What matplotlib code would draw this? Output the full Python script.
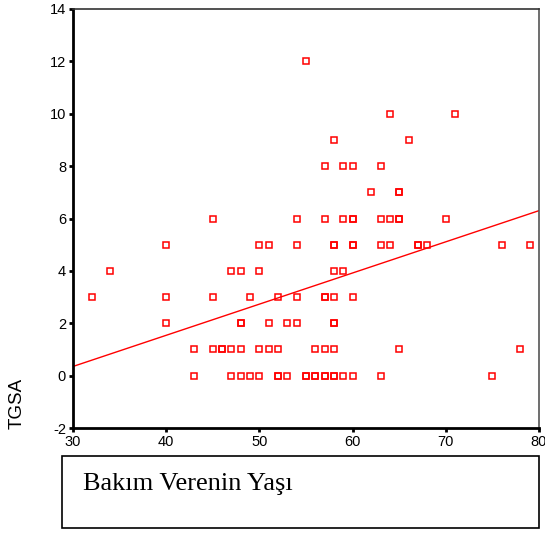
import numpy as np
import matplotlib
matplotlib.use("Agg")
import matplotlib.pyplot as plt
from matplotlib.patches import Rectangle
from matplotlib.ticker import FuncFormatter

# ages (Bakım Verenin Yaşı) and TGSA scores
age = [55,
       64, 71,
       58, 66,
       57, 59, 60, 63,
       62, 65, 65,
       45, 54, 57, 59, 60, 60, 63, 64, 65, 65, 70,
       40, 50, 51, 54, 58, 58, 60, 60, 63, 64, 67, 67, 68, 76, 79,
       34, 47, 48, 50, 58, 59,
       32, 40, 45, 49, 52, 54, 57, 57, 58, 60,
       40, 48, 48, 51, 53, 54, 58, 58,
       43, 45, 46, 46, 47, 48, 50, 51, 52, 56, 57, 58, 65, 78,
       43, 47, 48, 49, 50, 52, 52, 53, 55, 55, 56, 56, 57, 57, 58, 58, 59, 60, 63, 75]
tgsa = [12,
        10, 10,
        9, 9,
        8, 8, 8, 8,
        7, 7, 7,
        6, 6, 6, 6, 6, 6, 6, 6, 6, 6, 6,
        5, 5, 5, 5, 5, 5, 5, 5, 5, 5, 5, 5, 5, 5, 5,
        4, 4, 4, 4, 4, 4,
        3, 3, 3, 3, 3, 3, 3, 3, 3, 3,
        2, 2, 2, 2, 2, 2, 2, 2,
        1, 1, 1, 1, 1, 1, 1, 1, 1, 1, 1, 1, 1, 1,
        0, 0, 0, 0, 0, 0, 0, 0, 0, 0, 0, 0, 0, 0, 0, 0, 0, 0, 0, 0]

# fit line as drawn in the original (many overlapping points are hidden)
fit_intercept = -3.22
fit_slope = 0.119

xticks = [30, 40, 50, 60, 70, 80]
yticks = [-2, 0, 2, 4, 6, 8, 10, 12, 14]

fig = plt.figure(figsize=(5.45, 5.36), dpi=100)
ax = fig.add_axes([73/545, 108/536, 466/545, 419/536])

ax.plot(age, tgsa, linestyle="none", marker="s", markersize=5,
        markerfacecolor="none", markeredgecolor="red", markeredgewidth=1.1)

xs = np.array([30, 80])
ax.plot(xs, fit_intercept + fit_slope * xs, color="red", linewidth=1)

ax.set_xlim(30, 80)
ax.set_ylim(-2, 14)
ax.set_xticks(xticks)
ax.set_yticks(yticks)
ax.yaxis.set_major_formatter(FuncFormatter(lambda v, p: "%d" % v))
ax.tick_params(direction="out", length=3, width=2, labelsize=10.5, pad=2)
for lab in ax.get_xticklabels() + ax.get_yticklabels():
    lab.set_family("Liberation Sans")

ax.spines["left"].set_linewidth(2)
ax.spines["bottom"].set_linewidth(2)
ax.spines["top"].set_linewidth(1.2)
ax.spines["right"].set_linewidth(1.2)
ax.spines["top"].set_color("#333333")
ax.spines["right"].set_color("#555555")

fig.text(17/545, 1 - 403/536, "TGSA", rotation=90, ha="center", va="center",
         fontsize=13.5, family="Liberation Sans")

# caption box under the chart
fig.patches.append(Rectangle((62/545, 1 - 528/536), 477/545, 72/536,
                             transform=fig.transFigure, fill=False,
                             edgecolor="black", linewidth=1.2))
fig.text(83/545, 1 - 484/536, "Bakım Verenin Yaşı", ha="left", va="center",
         fontsize=19, family="Liberation Serif")

fig.savefig("out.png", dpi=100)
